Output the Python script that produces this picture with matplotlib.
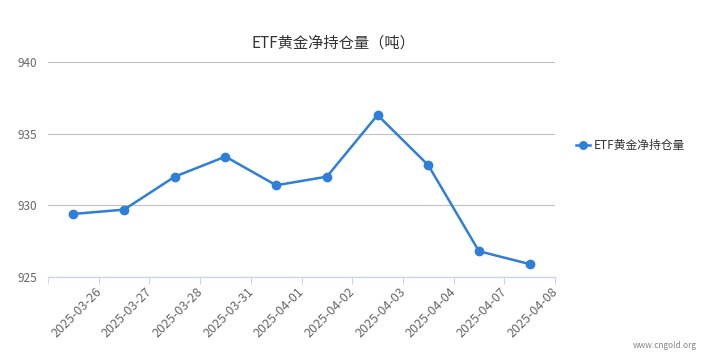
import matplotlib
matplotlib.use("Agg")
import matplotlib.pyplot as plt
import matplotlib.transforms as mtransforms

plt.rcParams['font.family'] = ['Noto Sans CJK SC', 'DejaVu Sans']

# 数据
dates = ['2025-03-26', '2025-03-27', '2025-03-28', '2025-03-31', '2025-04-01',
         '2025-04-02', '2025-04-03', '2025-04-04', '2025-04-07', '2025-04-08']
holdings = [929.4, 929.7, 932.0, 933.4, 931.4, 932.0, 936.3, 932.8, 926.8, 925.9]
y_ticks = [925, 930, 935, 940]

LINE_COLOR = '#2f7ed8'

fig = plt.figure(figsize=(7.1, 3.64), dpi=100)
ax = fig.add_axes([48 / 710, 1 - 277 / 364, (555 - 48) / 710, (277 - 62) / 364])

x = list(range(len(dates)))
ax.plot(x, holdings, color=LINE_COLOR, linewidth=1.8, marker='o',
        markersize=6, label='ETF黄金净持仓量', zorder=3)

ax.set_xlim(-0.5, len(dates) - 0.5)
ax.set_ylim(925, 940)
ax.set_yticks(y_ticks)
ax.set_yticklabels([str(v) for v in y_ticks], color='#666666', fontsize=8.5)
ax.tick_params(axis='y', length=0, pad=8)

# 分类标签放在每个区间的右边界
ax.set_xticks([i + 0.5 for i in x])
ax.set_xticklabels(dates, rotation=45, ha='right', rotation_mode='anchor',
                   color='#666666', fontsize=9)
ax.tick_params(axis='x', length=5, color='#ccd6eb', pad=1)
shift = mtransforms.ScaledTranslation(-4 / 100, 0, fig.dpi_scale_trans)
for lbl in ax.get_xticklabels():
    lbl.set_transform(lbl.get_transform() + shift)
ax.set_xticks([i - 0.5 for i in x] + [len(dates) - 0.5], minor=True)
ax.tick_params(axis='x', which='minor', length=5, color='#ccd6eb')

ax.grid(axis='y', color='#c0c0c0', linewidth=0.8)
ax.set_axisbelow(True)
for side in ['top', 'right', 'left']:
    ax.spines[side].set_visible(False)
ax.spines['bottom'].set_color('#ccd6eb')
ax.spines['bottom'].set_linewidth(1)

fig.text(333 / 710, 1 - 43 / 364, 'ETF黄金净持仓量（吨）', ha='center', va='center',
         fontsize=11, color='#333333')

ax.legend(loc='center left', bbox_to_anchor=(1.02, 0.61), frameon=False,
          fontsize=8.5, handlelength=1.2, handletextpad=0.3, labelcolor='#333333',
          markerscale=0.9)

fig.text(697 / 710, 1 - 345 / 364, 'www.cngold.org', ha='right', va='center',
         fontsize=6, color='#888888')

fig.savefig('out.png', dpi=100)
